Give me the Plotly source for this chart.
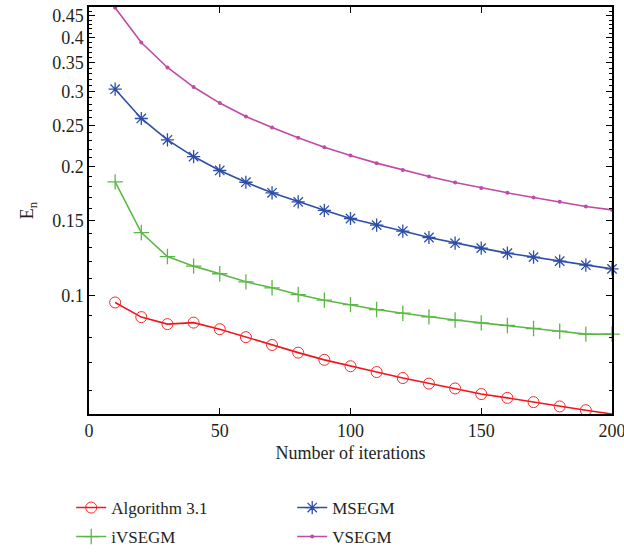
import plotly.graph_objects as go

iterations = [10, 20, 30, 40, 50, 60, 70, 80, 90, 100, 110, 120, 130, 140, 150, 160, 170, 180, 190, 200]

algorithm31 = [0.0965, 0.0892, 0.0859, 0.0866, 0.0836, 0.0801, 0.0768, 0.0737, 0.0709, 0.0685,
               0.0664, 0.0643, 0.0624, 0.0608, 0.0590, 0.0578, 0.0565, 0.0552, 0.0541, 0.0530]
msegm = [0.3035, 0.2593, 0.2312, 0.2113, 0.1961, 0.1841, 0.1739, 0.1656, 0.1583, 0.1515,
         0.1462, 0.1416, 0.1368, 0.1327, 0.1292, 0.1258, 0.1231, 0.1205, 0.1179, 0.1156]
ivsegm = [0.1845, 0.1405, 0.1235, 0.1173, 0.1126, 0.1078, 0.1044, 0.1007, 0.0977, 0.0954,
          0.0929, 0.0911, 0.0893, 0.0878, 0.0865, 0.0853, 0.0839, 0.0827, 0.0814, 0.0814]
vsegm = [0.470, 0.390, 0.341, 0.307, 0.2817, 0.262, 0.247, 0.2337, 0.2223, 0.2125,
         0.204, 0.1966, 0.1899, 0.1839, 0.1786, 0.1739, 0.1696, 0.1657, 0.1616, 0.1587]

y_tickvals = [0.1, 0.15, 0.2, 0.25, 0.3, 0.35, 0.4, 0.45]
y_ticktext = ["0.1", "0.15", "0.2", "0.25", "0.3", "0.35", "0.4", "0.45"]
y_minor = [0.06, 0.07, 0.08, 0.09, 0.11, 0.12, 0.13, 0.14, 0.16, 0.17, 0.18, 0.19,
           0.21, 0.22, 0.23, 0.24, 0.26, 0.27, 0.28, 0.29, 0.31, 0.32, 0.33, 0.34,
           0.36, 0.37, 0.38, 0.39, 0.41, 0.42, 0.43, 0.44, 0.46]
x_tickvals = [0, 50, 100, 150, 200]

FONT = "Liberation Serif"
TXT = "#231f20"
Y_RANGE = [-1.2757, -0.3261]

fig = go.Figure()
fig.add_trace(go.Scatter(
    x=iterations, y=algorithm31, name="Algorithm 3.1", mode="lines+markers",
    line=dict(color="#f0141e", width=1.6),
    marker=dict(symbol="circle-open", size=11, color="#f52a2a", line=dict(width=1)),
    cliponaxis=False, legend="legend"))
fig.add_trace(go.Scatter(
    x=iterations, y=msegm, name="MSEGM", mode="lines+markers",
    line=dict(color="#2c4ea6", width=1.6),
    marker=dict(symbol="asterisk-open", size=11, color="#2c4ea6", line=dict(width=1.3)),
    cliponaxis=False, legend="legend"))
fig.add_trace(go.Scatter(
    x=iterations, y=ivsegm, name="iVSEGM", mode="lines+markers",
    line=dict(color="#5cb845", width=1.6),
    marker=dict(symbol="cross-thin-open", size=11, color="#5cb845", line=dict(width=1.3)),
    cliponaxis=False, legend="legend2"))
fig.add_trace(go.Scatter(
    x=iterations, y=vsegm, name="VSEGM", mode="lines+markers",
    line=dict(color="#bf4aa8", width=1.6),
    marker=dict(symbol="circle", size=4, color="#bf4aa8"), legend="legend2"))
# helper trace (no points) so the minor-tick overlay axis is drawn
fig.add_trace(go.Scatter(x=[], y=[], yaxis="y2", showlegend=False, hoverinfo="skip"))

legend_common = dict(orientation="h", x=-0.034, xanchor="left", yanchor="middle",
                     entrywidth=176, entrywidthmode="pixels",
                     font=dict(family=FONT, size=17, color=TXT), itemwidth=30,
                     bgcolor="rgba(0,0,0,0)")

fig.update_layout(
    width=624, height=552,
    margin=dict(l=89, r=12, t=7, b=138, autoexpand=False),
    paper_bgcolor="white", plot_bgcolor="white",
    font=dict(family=FONT, size=17, color=TXT),
    showlegend=True,
    legend=dict(y=-(508 - 414) / 407, **legend_common),
    legend2=dict(y=-(537 - 414) / 407, **legend_common),
    xaxis=dict(
        range=[0, 200], tickmode="array", tickvals=x_tickvals,
        ticks="inside", ticklen=6, tickcolor="black", tickwidth=1,
        showline=True, linecolor="black", linewidth=1.5, mirror="ticks",
        showgrid=False, zeroline=False, automargin=False, ticklabeloverflow="allow",
        title=dict(text="Number of iterations", font=dict(family=FONT, size=18, color=TXT), standoff=6),
        tickfont=dict(family=FONT, size=18, color=TXT)),
    yaxis=dict(
        type="log", range=Y_RANGE,
        tickmode="array", tickvals=y_tickvals, ticktext=y_ticktext,
        ticks="inside", ticklen=6, tickcolor="black", tickwidth=1,
        showline=True, linecolor="black", linewidth=1.5, mirror="ticks",
        showgrid=False, zeroline=False, automargin=False,
        title=dict(text="E<sub>n</sub>", font=dict(family=FONT, size=18, color=TXT), standoff=14),
        tickfont=dict(family=FONT, size=18, color=TXT)),
    yaxis2=dict(
        type="log", range=Y_RANGE, overlaying="y", side="left",
        tickmode="array", tickvals=y_minor, showticklabels=False,
        ticks="inside", ticklen=3, tickcolor="black", tickwidth=1,
        showline=True, linecolor="black", linewidth=1.5,
        mirror="ticks", showgrid=False, zeroline=False, automargin=False),
)

fig.write_html("out.html", config={"displayModeBar": False},
               post_script="document.body.style.margin='0';document.body.style.padding='0';")
